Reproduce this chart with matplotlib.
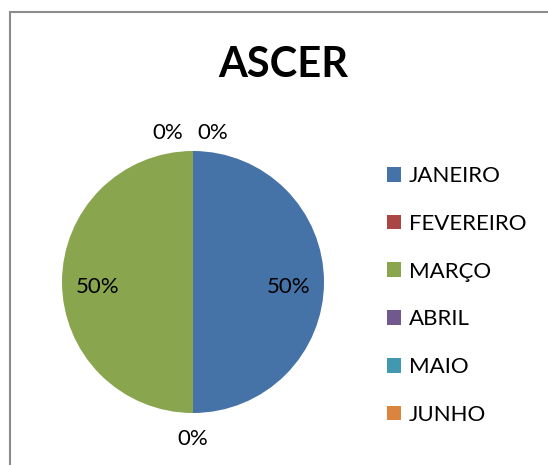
import matplotlib.pyplot as plt
from matplotlib.patches import Rectangle
import numpy as np

plt.rcParams['font.family'] = ['Lato', 'DejaVu Sans']

# dados do gráfico
meses = ['JANEIRO', 'FEVEREIRO', 'MARÇO', 'ABRIL', 'MAIO', 'JUNHO']
valores = [1, 0, 1, 0, 0, 0]
cores = ['#4572A7', '#AA4643', '#89A54E', '#71588F', '#4198AF', '#DB843D']
titulo = 'ASCER'

fig = plt.figure(figsize=(5.48, 4.65), dpi=100)

# moldura da área do gráfico
fig.patches.append(Rectangle((10 / 548, -0.05), 1.0, 1 - 12 / 465 + 0.05,
                             transform=fig.transFigure, fill=False,
                             edgecolor='#8C8C8C', linewidth=1.5))

ax = fig.add_axes([62 / 548, 52 / 465, 262 / 548, 262 / 465])
wedges, textos, autotextos = ax.pie(valores, colors=cores, startangle=90,
                                    counterclock=False, autopct='%1.0f%%',
                                    pctdistance=0.73,
                                    textprops={'fontsize': 16, 'color': 'black'})
ax.set_xlim(-1, 1)
ax.set_ylim(-1, 1)
ax.set_aspect('equal')

# rótulos de fatias vazias ficam fora do círculo
total = sum(valores)
acum = 0
desloc_topo = {3: -0.19, 4: 0.15, 5: 0.15}
vistos = set()
for i, (v, t) in enumerate(zip(valores, autotextos)):
    ang = np.deg2rad(90 - 360 * acum / total)
    acum += v
    if v == 0:
        x = 1.14 * np.cos(ang) + desloc_topo.get(i, 0) * (np.sin(ang) > 0.5)
        y = 1.14 * np.sin(ang) - 0.06 * (np.sin(ang) < -0.5)
        pos = (round(x, 3), round(y, 3))
        t.set_position((x, y))
        # rótulos sobrepostos: mostra só um
        if pos in vistos:
            t.set_visible(False)
        vistos.add(pos)
    else:
        x, y = t.get_position()
        t.set_position((x, y - 0.035))

fig.text(283 / 548, 1 - 65 / 465, titulo, ha='center', va='center',
         fontsize=30, fontweight='bold')

ax.legend(wedges, meses, loc='upper left', bbox_to_anchor=(387 / 548, 1 - 166 / 465),
          bbox_transform=fig.transFigure, frameon=False, fontsize=16,
          handlelength=0.65, handleheight=0.65, handletextpad=0.35,
          labelspacing=1.25, borderpad=0, borderaxespad=0)

fig.savefig('out.png', dpi=100)
